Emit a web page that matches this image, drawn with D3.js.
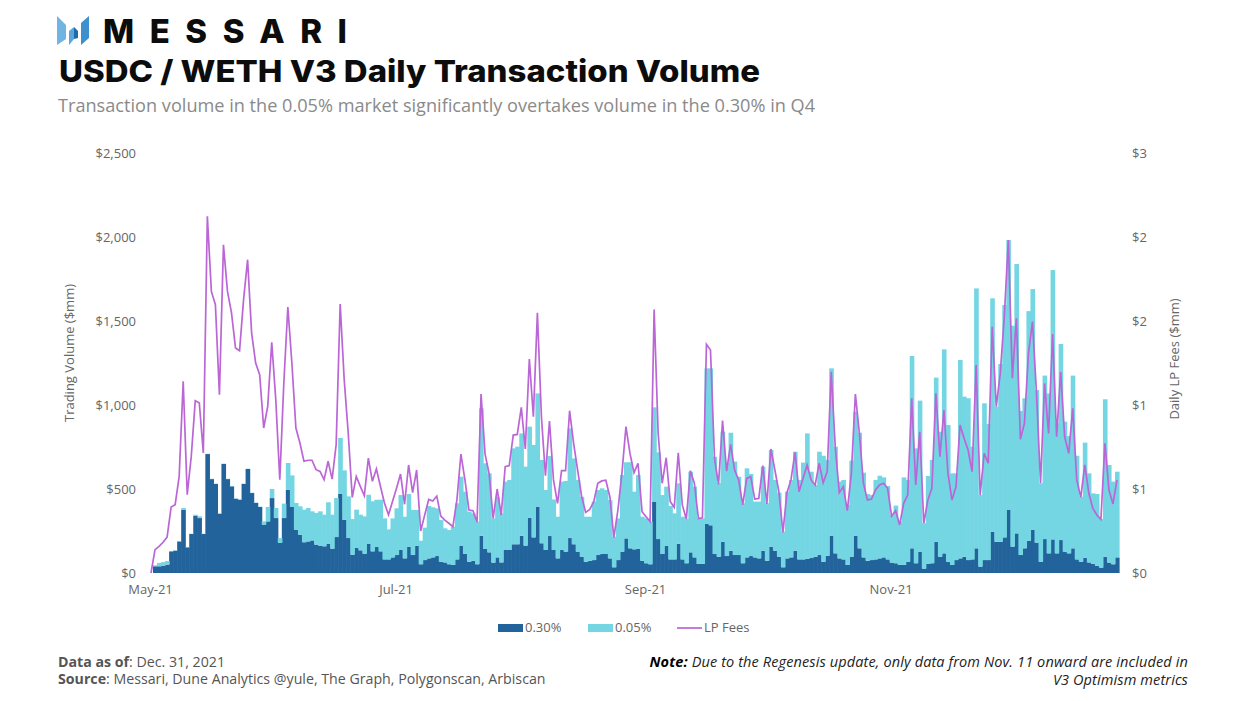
<!DOCTYPE html>
<html>
<head>
<meta charset="utf-8">
<script src="https://cdn.jsdelivr.net/npm/d3@7"></script>
<style>
  html, body { margin: 0; padding: 0; background: #fff; }
  text { font-family: "Open Sans", sans-serif; fill: #666; }
</style>
</head>
<body>
<div id="chart"></div>
<script>
const startDate = new Date(Date.UTC(2021, 4, 1));
const tickDates = [new Date(Date.UTC(2021, 4, 1)), new Date(Date.UTC(2021, 6, 1)), new Date(Date.UTC(2021, 8, 1)), new Date(Date.UTC(2021, 10, 1))];
const leftTicks = [0, 500, 1000, 1500, 2000, 2500];
const rightTicks = [0, 0.5, 1, 1.5, 2, 2.5];
const rightTickLabels = ["$0", "$1", "$1", "$2", "$2", "$3"];
const seriesNames = ["0.30%", "0.05%", "LP Fees"];

// daily volume $mm, first bar is May 2
const vol030 = [
  40,40,44,50,129,133,188,377,153,232,
  341,327,232,708,559,530,353,649,559,516,
  442,436,530,619,476,417,393,288,307,446,
  327,179,327,496,393,258,228,183,188,194,
  169,163,159,175,145,214,472,317,208,109,
  149,135,115,175,129,155,129,81,81,93,
  107,137,87,157,107,163,52,77,87,93,
  101,67,63,52,48,81,163,113,67,73,
  52,222,143,123,62,93,63,137,137,171,
  171,222,163,329,212,395,177,137,220,137,
  87,137,127,208,171,127,97,67,73,77,
  107,113,113,87,34,77,127,206,147,141,
  143,73,58,52,425,202,113,163,81,81,
  173,81,58,123,93,54,54,292,284,113,
  97,186,101,133,107,107,58,93,101,93,
  87,133,73,157,133,97,34,87,93,133,
  81,81,85,89,97,107,67,103,222,117,
  87,81,48,97,222,147,93,73,77,81,
  87,93,81,62,58,48,48,67,147,58,
  127,26,54,58,186,97,117,67,48,77,
  87,97,77,81,147,38,77,77,246,186,
  186,212,375,157,236,107,147,192,256,181,
  67,202,117,200,117,196,127,117,147,81,
  67,91,63,54,42,32,97,62,52,93
];
const vol005 = [
  6,20,21,21,2,2,2,10,2,2,
  6,10,2,2,2,2,2,2,2,2,
  2,2,2,2,2,2,2,19,86,54,
  60,29,86,159,188,159,169,194,199,173,
  188,204,188,246,202,232,332,294,248,212,
  228,212,222,291,298,281,307,244,179,232,
  278,327,248,313,268,212,140,193,312,298,
  284,248,203,204,228,334,410,371,298,282,
  254,758,510,470,263,361,292,407,417,571,
  581,609,470,542,550,674,496,357,476,301,
  248,407,421,653,511,427,357,268,262,348,
  387,391,381,347,182,248,456,453,512,343,
  440,262,267,254,561,516,351,351,318,274,
  361,254,263,480,421,271,271,926,934,579,
  437,655,552,702,556,466,357,530,488,332,
  338,500,342,575,421,381,212,397,461,589,
  473,576,746,514,427,615,631,570,996,635,
  457,473,357,572,738,688,504,397,387,473,
  492,476,437,283,343,258,521,487,1145,684,
  899,270,523,615,977,744,1214,814,545,516,
  1181,953,963,671,1547,426,933,810,1389,804,
  1058,1383,1607,1315,1603,857,893,1367,1434,908,
  467,973,952,1603,774,1167,774,698,1028,617,
  387,685,530,420,428,289,937,581,492,510
];
// daily LP fees $mm, first point is May 1
const lpFees = [
  0,.139,.159,.183,.214,.393,.407,.575,1.141,.466,
  .694,1.026,1.012,.714,2.123,1.676,1.597,1.061,1.954,1.676,
  1.548,1.339,1.323,1.627,1.865,1.428,1.25,1.18,.863,.992,
  1.373,1.032,.556,1.131,1.583,1.25,.863,.774,.665,.671,
  .671,.615,.605,.556,.665,.559,.764,1.601,1.151,.833,
  .45,.575,.516,.46,.684,.546,.619,.516,.417,.347,
  .425,.504,.589,.409,.643,.478,.613,.25,.345,.438,
  .429,.458,.339,.315,.296,.276,.434,.708,.554,.375,
  .371,.302,1.065,.708,.593,.325,.5,.345,.633,.639,
  .821,.825,.986,.738,1.274,.93,1.549,.93,.579,.905,
  .554,.415,.609,.609,.966,.772,.613,.454,.361,.379,
  .425,.534,.548,.552,.454,.212,.375,.593,.871,.712,
  .597,.653,.365,.335,.306,1.569,.831,.534,.686,.425,
  .391,.716,.405,.321,.609,.534,.325,.329,1.361,1.327,
  .682,.528,.907,.607,.766,.613,.554,.405,.563,.573,
  .44,.444,.639,.411,.738,.613,.484,.242,.478,.554,
  .718,.484,.563,.643,.554,.524,.653,.538,.603,1.198,
  .752,.478,.514,.371,.593,1.065,.831,.534,.434,.44,
  .494,.524,.534,.504,.339,.371,.286,.415,.464,1.04,
  .524,.841,.296,.434,.504,1.069,.692,.97,.593,.434,
  .514,.881,.802,.732,.603,1.238,.464,.712,.653,1.466,
  .99,1.188,1.526,1.982,1.159,1.516,.796,.891,1.307,1.496,
  1.069,.534,1.129,.831,1.423,.811,1.198,.811,.712,.98,
  .554,.45,.643,.474,.385,.345,.319,.772,.494,.411,
  .554
];

const width = 1242, height = 701;
const colors = { c030: "#22639b", c005: "#74d6e2", fees: "#bb66d6" };

const svg = d3.select("#chart").append("svg")
  .attr("width", width)
  .attr("height", height)
  .style("display", "block");

const dayAt = d => d3.utcDay.offset(startDate, d);

const x = d3.scaleUtc().domain([dayAt(0), dayAt(240)]).range([151, 1117]);
const yLeft = d3.scaleLinear().domain([0, 2500]).range([573, 153]);
const yRight = d3.scaleLinear().domain([0, 2.5]).range([573, 153]);
const barW = x(dayAt(1)) - x(dayAt(0));

// stacked bars, a bit of overlap so no seams show between days
const rows = vol030.map((v, i) => ({ date: dayAt(i + 1), a: v, b: vol005[i] }));
const stacked = d3.stack().keys(["a", "b"])(rows);
svg.selectAll("g.layer").data(stacked).join("g")
  .attr("class", "layer")
  .attr("fill", (d, i) => i === 0 ? colors.c030 : colors.c005)
  .selectAll("rect").data(d => d).join("rect")
  .attr("x", d => x(d.data.date) - barW / 2)
  .attr("width", barW + 0.6)
  .attr("y", d => yLeft(d[1]))
  .attr("height", d => yLeft(d[0]) - yLeft(d[1]));

// fees line
const feeLine = d3.line()
  .x((d, i) => x(dayAt(i)))
  .y(d => yRight(d));
svg.append("path")
  .datum(lpFees)
  .attr("d", feeLine)
  .attr("fill", "none")
  .attr("stroke", colors.fees)
  .attr("stroke-width", 1.7)
  .attr("stroke-linejoin", "miter");

// axes
const axisStyle = g => {
  g.selectAll("text").style("font-size", "13px").style("fill", "#666");
  g.select(".domain").remove();
};
svg.append("g").attr("transform", "translate(136,0.5)")
  .call(d3.axisLeft(yLeft).tickValues(leftTicks).tickSize(0).tickPadding(0).tickFormat(d3.format("$,")))
  .call(axisStyle);
svg.append("g").attr("transform", "translate(1132,0.5)")
  .call(d3.axisRight(yRight).tickValues(rightTicks).tickSize(0).tickPadding(0).tickFormat((d, i) => rightTickLabels[i]))
  .call(axisStyle);
svg.append("g").attr("transform", "translate(-1,585)")
  .call(d3.axisBottom(x).tickValues(tickDates).tickSize(0).tickPadding(0).tickFormat(d3.utcFormat("%b-%y")))
  .call(axisStyle);

svg.append("text")
  .attr("transform", "translate(74,353) rotate(-90)")
  .attr("text-anchor", "middle")
  .style("font-size", "13px")
  .text("Trading Volume ($mm)");
svg.append("text")
  .attr("transform", "translate(1179,359) rotate(-90)")
  .attr("text-anchor", "middle")
  .style("font-size", "13px")
  .text("Daily LP Fees ($mm)");

// legend
const legend = svg.append("g");
legend.append("rect").attr("x", 498).attr("y", 624).attr("width", 25).attr("height", 8).attr("fill", colors.c030);
legend.append("text").attr("x", 525).attr("y", 632).style("font-size", "13px").text(seriesNames[0]);
legend.append("rect").attr("x", 588).attr("y", 624).attr("width", 25).attr("height", 8).attr("fill", colors.c005);
legend.append("text").attr("x", 615).attr("y", 632).style("font-size", "13px").text(seriesNames[1]);
legend.append("line").attr("x1", 677).attr("x2", 702).attr("y1", 628).attr("y2", 628)
  .attr("stroke", colors.fees).attr("stroke-width", 1.7);
legend.append("text").attr("x", 704).attr("y", 632).style("font-size", "13px").text(seriesNames[2]);

// logo
const logo = svg.append("g");
[
  { pts: "57,16 66,25 66,39 57,45", fill: "#6fb4e2" },
  { pts: "69,31 74,27 74,39 69,45", fill: "#5aa6dc" },
  { pts: "74,27 78,31 78,38 74,39", fill: "#1f6aa8" },
  { pts: "81,23 89,16 89,38 81,45", fill: "#3d8fcd" }
].forEach(p => logo.append("polygon").attr("points", p.pts).attr("fill", p.fill));

// header
svg.append("text").attr("x", 103).attr("y", 43)
  .attr("textLength", 244).attr("lengthAdjust", "spacing")
  .style("font-family", "Inter").style("font-weight", 800).style("font-size", "33px").style("fill", "#0c0c0c")
  .text("MESSARI");
svg.append("text").attr("x", 59).attr("y", 82)
  .attr("textLength", 701).attr("lengthAdjust", "spacingAndGlyphs")
  .style("font-family", "Inter").style("font-weight", 800).style("font-size", "30px").style("fill", "#0c0c0c")
  .text("USDC / WETH V3 Daily Transaction Volume");
svg.append("text").attr("x", 58).attr("y", 112)
  .style("font-size", "18.15px").style("fill", "#8a8a8a")
  .text("Transaction volume in the 0.05% market significantly overtakes volume in the 0.30% in Q4");

// footer
const foot1 = svg.append("text").attr("x", 58).attr("y", 667).style("font-size", "14.2px").style("fill", "#555");
foot1.append("tspan").style("font-weight", 700).text("Data as of");
foot1.append("tspan").text(": Dec. 31, 2021");
const foot2 = svg.append("text").attr("x", 58).attr("y", 684).style("font-size", "14.2px").style("fill", "#555");
foot2.append("tspan").style("font-weight", 700).text("Source");
foot2.append("tspan").text(": Messari, Dune Analytics @yule, The Graph, Polygonscan, Arbiscan");

const note1 = svg.append("text").attr("x", 1188).attr("y", 667).attr("text-anchor", "end")
  .style("font-size", "14.5px").style("letter-spacing", "0.12px").style("font-style", "italic").style("fill", "#222");
note1.append("tspan").style("font-weight", 700).style("fill", "#000").text("Note:");
note1.append("tspan").text(" Due to the Regenesis update, only data from Nov. 11 onward are included in");
svg.append("text").attr("x", 1188).attr("y", 685).attr("text-anchor", "end")
  .style("font-size", "14.5px").style("letter-spacing", "0.12px").style("font-style", "italic").style("fill", "#222")
  .text("V3 Optimism metrics");
</script>
</body>
</html>
